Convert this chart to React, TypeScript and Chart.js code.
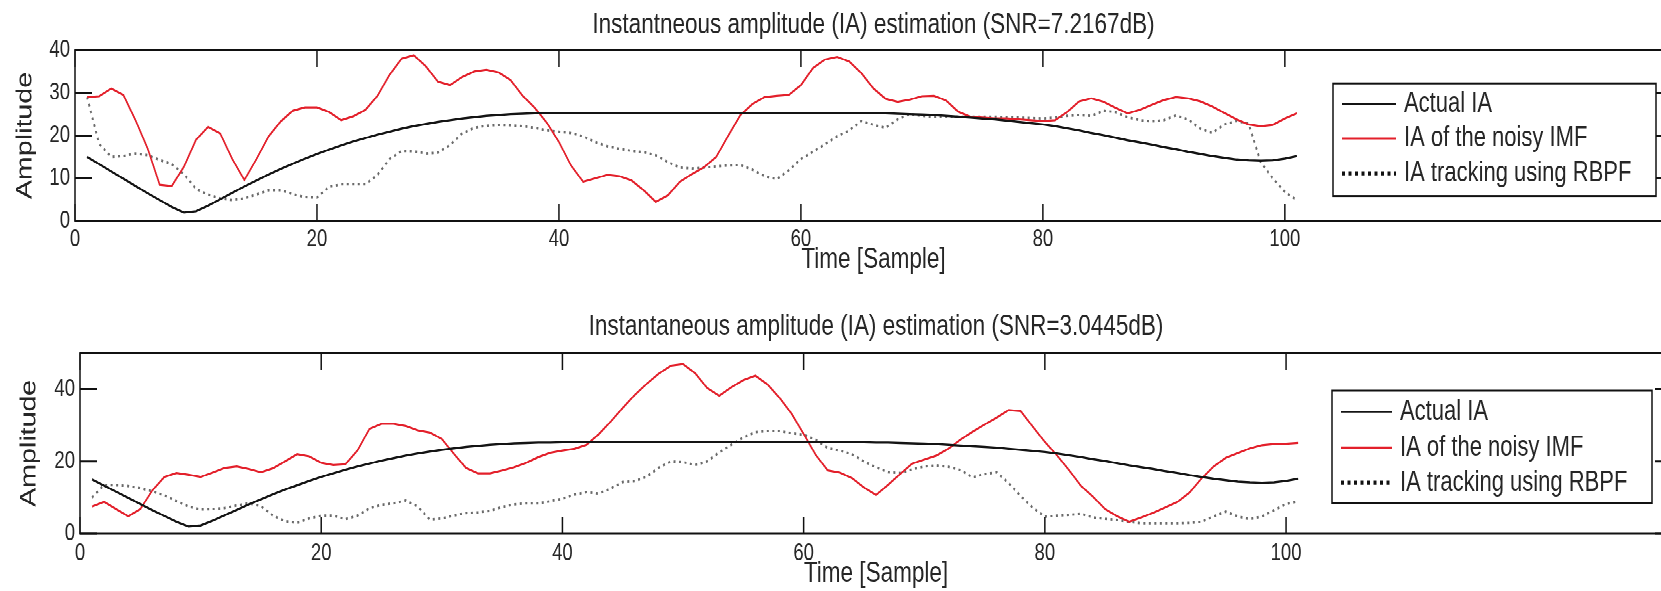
import React, { useEffect, useRef } from 'react';
import { Chart, registerables } from 'chart.js';

Chart.register(...registerables);

// ---------------- data ----------------
const SAMPLES = Array.from({ length: 101 }, (_, i) => i + 1);
const X_TICKS = [0, 20, 40, 60, 80, 100];
const Y_TICKS_TOP = [0, 10, 20, 30, 40];
const Y_TICKS_BOTTOM = [0, 20, 40];
const LEGEND_LABELS = ['Actual IA', 'IA of the noisy IMF', 'IA tracking using RBPF'];
const TITLE_TOP = 'Instantneous amplitude (IA) estimation (SNR=7.2167dB)';
const TITLE_BOTTOM = 'Instantaneous amplitude (IA) estimation (SNR=3.0445dB)';
const X_LABEL = 'Time [Sample]';
const Y_LABEL = 'Amplitude';

const ACTUAL_IA = [
  15, 13.3, 11.6, 9.9, 8.2, 6.5, 4.9, 3.3, 2.0, 2.3,
  3.6, 5.1, 6.6, 8.1, 9.5, 10.9, 12.2, 13.4, 14.6, 15.7,
  16.7, 17.7, 18.6, 19.4, 20.2, 20.9, 21.6, 22.2, 22.7, 23.2,
  23.6, 24.0, 24.3, 24.6, 24.8, 25.0, 25.1, 25.2, 25.2, 25.3,
  25.3, 25.3, 25.3, 25.3, 25.3, 25.3, 25.3, 25.3, 25.3, 25.3,
  25.3, 25.3, 25.3, 25.3, 25.3, 25.3, 25.3, 25.3, 25.3, 25.3,
  25.3, 25.3, 25.3, 25.3, 25.3, 25.2, 25.2, 25.1, 25.0, 24.9,
  24.8, 24.6, 24.4, 24.2, 24.0, 23.8, 23.5, 23.2, 22.9, 22.6,
  22.2, 21.7, 21.2, 20.6, 20.1, 19.5, 18.9, 18.4, 17.9, 17.3,
  16.8, 16.2, 15.7, 15.2, 14.8, 14.4, 14.2, 14.1, 14.2, 14.6, 15.2,
];

const NOISY_IA_TOP = [
  29, 29.2, 31, 29.5, 23.6, 17, 8.5, 8.2, 12.7, 19,
  22, 20.5, 14.5, 9.6, 14.5, 19.8, 23.3, 25.8, 26.6, 26.6,
  25.5, 23.6, 24.5, 26, 29.3, 34.2, 38, 38.8, 36.2, 32.6,
  31.8, 33.7, 35, 35.4, 34.8, 33, 29.3, 26.5, 23, 18.5,
  13, 9.2, 10, 10.8, 10.5, 9.5, 7.2, 4.5, 6, 9.2,
  11, 12.6, 15, 20, 24.8, 27.4, 29, 29.3, 29.5, 31.8,
  35.8, 37.8, 38.4, 37.3, 34.6, 31, 28.6, 27.9, 28.4, 29.2,
  29.3, 28.2, 25.6, 24.4, 24.2, 24, 24, 23.8, 23.6, 23.4,
  23.6, 25.5, 28, 28.7, 27.9, 26.5, 25.2, 26, 27.2, 28.3,
  29, 28.7, 28, 26.8, 25.3, 23.8, 22.6, 22.2, 22.5, 24, 25.2,
];

const RBPF_IA_TOP = [
  29, 18, 15, 15.2, 15.8, 15.4, 14.3, 13.3, 11, 7.5,
  6.2, 5.3, 4.9, 5.3, 6.2, 7.2, 7.2, 6.3, 5.6, 5.5,
  8, 8.6, 8.6, 8.6, 10.8, 14.5, 16.4, 16.3, 15.8, 16,
  17.8, 20.5, 21.8, 22.3, 22.5, 22.4, 22.2, 21.8, 21.2, 20.9,
  20.6, 19.8, 18.5, 17.5, 16.9, 16.4, 16.1, 15.4, 13.8, 12.5,
  12.3, 12.5, 12.8, 13, 13.1, 12, 10.5, 9.8, 11.9, 14.5,
  16.2, 18, 19.8, 21.2, 23.4, 22.5, 21.8, 23.8, 25, 24.6,
  24.4, 24.4, 24.4, 24.4, 24.4, 24.4, 24.3, 24.2, 24.1, 24,
  24.2, 24.6, 24.8, 24.6, 25.8, 25.5, 24.3, 23.6, 23.3, 23.6,
  24.7, 23.8, 21.6, 20.6, 22.6, 23.4, 22.8, 13.8, 10, 6.8, 4.9,
];

const NOISY_IA_BOTTOM = [
  7.5, 8.8, 6.8, 4.8, 6.8, 12, 15.7, 16.8, 16.3, 15.7,
  16.9, 18.2, 18.6, 17.9, 17, 18.1, 20, 22, 21.4, 19.6,
  19, 19.2, 23, 29, 30.4, 30.4, 29.8, 28.6, 28, 26.2,
  22.1, 18.2, 16.7, 16.7, 17.5, 18.4, 19.6, 21.2, 22.4, 23,
  23.5, 24.6, 27.5, 31, 34.8, 38.4, 41.5, 44.3, 46.5, 46.9,
  44.4, 40.3, 38.2, 40.5, 42.5, 43.7, 41.3, 37.6, 33.2, 27.6,
  21.8, 17.5, 16.9, 15.4, 12.8, 10.7, 13.5, 16.5, 19.4, 20.5,
  21.6, 23.5, 26, 28.2, 30.2, 32.1, 34.2, 33.9, 29.6, 25.4,
  21.7, 17.6, 13.2, 10.2, 6.8, 4.8, 3.3, 4.5, 5.8, 7.3,
  8.8, 11.4, 15.3, 18.6, 21, 22.3, 23.6, 24.5, 24.8, 24.9, 25.1,
];

const RBPF_IA_BOTTOM = [
  10, 13.5, 13.4, 13.2, 12.6, 11.7, 10.6, 9, 7.5, 6.7,
  6.8, 7.1, 7.8, 8.4, 7.6, 5, 3.5, 3, 4.2, 5,
  5, 4, 5, 7, 8, 8.4, 9.2, 7.5, 3.9, 4.2,
  5, 5.7, 5.9, 6.3, 7.4, 8.1, 8.4, 8.4, 9, 9.7,
  10.8, 11.5, 11.1, 12.5, 14.3, 14.5, 15.8, 18.3, 20, 19.8,
  19, 20, 22.5, 24.6, 26.6, 28.1, 28.4, 28.4, 27.8, 27.4,
  26, 23.7, 23, 22, 20, 18.4, 17, 16.8, 17.8, 18.6,
  18.9, 18.5, 17.6, 15.6, 16.5, 17, 14, 10.4, 7.2, 4.7,
  5, 5.2, 5.5, 4.5, 4.1, 3.8, 3.3, 2.9, 2.9, 2.9,
  2.9, 3, 3.3, 4.8, 6.1, 4.8, 4, 4.8, 6.5, 8.2, 9,
];

// ---------------- styles ----------------
const FONT = "'Liberation Sans', Arial, Helvetica, sans-serif";
const TEXT = '#262626';
const BLACK = '#141414';
const RED = '#e3202b';
const DOTTED = '#6a6a6a';
const STRETCH = 1.3;
const CANVAS_W = 1672;

const matlabFrame = {
  id: 'matlabFrame',
  afterDraw(chart: any, _args: any, o: any) {
    const { ctx, chartArea, scales } = chart;
    const { left, right, top, bottom } = chartArea;
    ctx.save();
    ctx.strokeStyle = o.color;
    ctx.lineWidth = o.lineWidth;
    ctx.strokeRect(left, top, right - left, bottom - top);
    const seg = (x0: number, y0: number, x1: number, y1: number) => {
      ctx.beginPath();
      ctx.moveTo(x0, y0);
      ctx.lineTo(x1, y1);
      ctx.stroke();
    };
    scales.x.ticks.forEach((t: any) => {
      const px = scales.x.getPixelForValue(t.value);
      seg(px, bottom, px, bottom - o.xTickLen);
      seg(px, top, px, top + o.xTickLen);
    });
    scales.y.ticks.forEach((t: any) => {
      const py = scales.y.getPixelForValue(t.value);
      seg(left, py, left + o.yTickLen, py);
      seg(right, py, right - o.yTickLen, py);
    });
    ctx.restore();
  },
};

const boxLegend = {
  id: 'boxLegend',
  afterDraw(chart: any, _args: any, o: any) {
    const { ctx } = chart;
    ctx.save();
    ctx.fillStyle = '#ffffff';
    ctx.fillRect(o.left, o.top, o.width, o.height);
    ctx.strokeStyle = '#111';
    ctx.lineWidth = 1.5;
    ctx.strokeRect(o.left, o.top, o.width, o.height);
    chart.data.datasets.forEach((ds: any, i: number) => {
      const y = o.rows[i];
      const st = o.samples[i];
      ctx.strokeStyle = st.color || ds.borderColor;
      ctx.lineWidth = st.width;
      ctx.setLineDash(st.dash);
      ctx.beginPath();
      ctx.moveTo(o.sampleX0, y);
      ctx.lineTo(o.sampleX1, y);
      ctx.stroke();
      ctx.setLineDash([]);
      ctx.fillStyle = TEXT;
      ctx.font = `${o.fontSize}px ${FONT}`;
      ctx.textAlign = 'left';
      ctx.textBaseline = 'middle';
      ctx.fillText(ds.label, o.textX, y);
    });
    ctx.restore();
  },
};

type PanelCfg = {
  title: string;
  noisy: number[];
  rbpf: number[];
  yMax: number;
  yTicks: number[];
  yWidth: number;
  yTitlePad: number;
  titlePad: { top: number; bottom: number };
  xHeight: number;
  xTickPad: number;
  xTitlePad: number;
  legend: any;
};

function makeChart(canvas: HTMLCanvasElement, c: PanelCfg) {
  return new Chart(canvas, {
    type: 'line',
    data: {
      labels: SAMPLES,
      datasets: [
        { label: LEGEND_LABELS[0], data: ACTUAL_IA, borderColor: BLACK, borderWidth: 1.7, pointRadius: 0 },
        { label: LEGEND_LABELS[1], data: c.noisy, borderColor: RED, borderWidth: 1.6, pointRadius: 0 },
        { label: LEGEND_LABELS[2], data: c.rbpf, borderColor: DOTTED, borderWidth: 1.9, borderDash: [2, 3.5], pointRadius: 0 },
      ],
    },
    options: {
      animation: false,
      responsive: false,
      devicePixelRatio: 2,
      events: [],
      layout: { padding: 0 },
      elements: { line: { tension: 0 }, point: { radius: 0 } },
      plugins: {
        legend: { display: false },
        tooltip: { enabled: false },
        title: {
          display: true,
          text: c.title,
          fullSize: false,
          color: TEXT,
          font: { family: FONT, size: 22.5, weight: 'normal' },
          padding: c.titlePad,
        },
        matlabFrame: { color: '#111', lineWidth: 1.5, xTickLen: 13, yTickLen: 17 },
        boxLegend: c.legend,
      } as any,
      scales: {
        x: {
          type: 'linear',
          min: 0,
          max: 132,
          grid: { display: false, drawTicks: false },
          border: { display: false },
          afterBuildTicks: (s: any) => {
            s.ticks = X_TICKS.map((v) => ({ value: v }));
          },
          afterFit: (s: any) => {
            s.height = c.xHeight;
          },
          ticks: {
            padding: c.xTickPad,
            color: TEXT,
            font: { family: FONT, size: 18.5 },
            maxRotation: 0,
            autoSkip: false,
          },
          title: {
            display: true,
            text: X_LABEL,
            color: TEXT,
            font: { family: FONT, size: 22.5 },
            padding: { top: 0, bottom: c.xTitlePad },
          },
        },
        y: {
          type: 'linear',
          min: 0,
          max: c.yMax,
          grid: { display: false, drawTicks: false },
          border: { display: false },
          afterBuildTicks: (s: any) => {
            s.ticks = c.yTicks.map((v) => ({ value: v }));
          },
          afterFit: (s: any) => {
            s.width = c.yWidth;
          },
          ticks: {
            padding: 5,
            color: TEXT,
            font: { family: FONT, size: 18.5 },
          },
          title: {
            display: true,
            text: Y_LABEL,
            color: TEXT,
            font: { family: FONT, size: 22 },
            padding: { top: c.yTitlePad, bottom: 0 },
          },
        },
      },
    },
    plugins: [matlabFrame, boxLegend],
  } as any);
}

const LEGEND_SAMPLES = [
  { width: 1.4, dash: [] },
  { width: 1.6, dash: [] },
  { color: '#111', width: 3.2, dash: [3, 3.5] },
];

export default function App() {
  const topRef = useRef<HTMLCanvasElement>(null);
  const botRef = useRef<HTMLCanvasElement>(null);

  useEffect(() => {
    const top = makeChart(topRef.current!, {
      title: TITLE_TOP,
      noisy: NOISY_IA_TOP,
      rbpf: RBPF_IA_TOP,
      yMax: 40,
      yTicks: Y_TICKS_TOP,
      yWidth: 75,
      yTitlePad: 12,
      titlePad: { top: 5.7, bottom: 5.8 },
      xHeight: 57,
      xTickPad: 3.5,
      xTitlePad: 13.5,
      legend: {
        left: 1333, top: 64.1, width: 323, height: 86.7,
        rows: [79.8, 106.5, 133.3],
        sampleX0: 1342, sampleX1: 1396, textX: 1404, fontSize: 22,
        samples: LEGEND_SAMPLES,
      },
    });
    const bot = makeChart(botRef.current!, {
      title: TITLE_BOTTOM,
      noisy: NOISY_IA_BOTTOM,
      rbpf: RBPF_IA_BOTTOM,
      yMax: 50,
      yTicks: Y_TICKS_BOTTOM,
      yWidth: 80,
      yTitlePad: 16,
      titlePad: { top: 10.8, bottom: 6.7 },
      xHeight: 44.5,
      xTickPad: 4.3,
      xTitlePad: 0,
      legend: {
        left: 1332, top: 73.5, width: 320, height: 86.7,
        rows: [89.7, 117.2, 144.3],
        sampleX0: 1341, sampleX1: 1392, textX: 1400, fontSize: 22,
        samples: LEGEND_SAMPLES,
      },
    });
    return () => {
      top.destroy();
      bot.destroy();
    };
  }, []);

  return (
    <div
      style={{
        position: 'fixed',
        left: 0,
        top: 0,
        width: 1661,
        height: 591,
        overflow: 'hidden',
        background: '#ffffff',
      }}
    >
      <div style={{ transform: `scale(1, ${STRETCH})`, transformOrigin: '0 0', width: CANVAS_W }}>
        <canvas ref={topRef} width={CANVAS_W} height={227} style={{ display: 'block' }} />
        <canvas ref={botRef} width={CANVAS_W} height={228} style={{ display: 'block' }} />
      </div>
    </div>
  );
}
